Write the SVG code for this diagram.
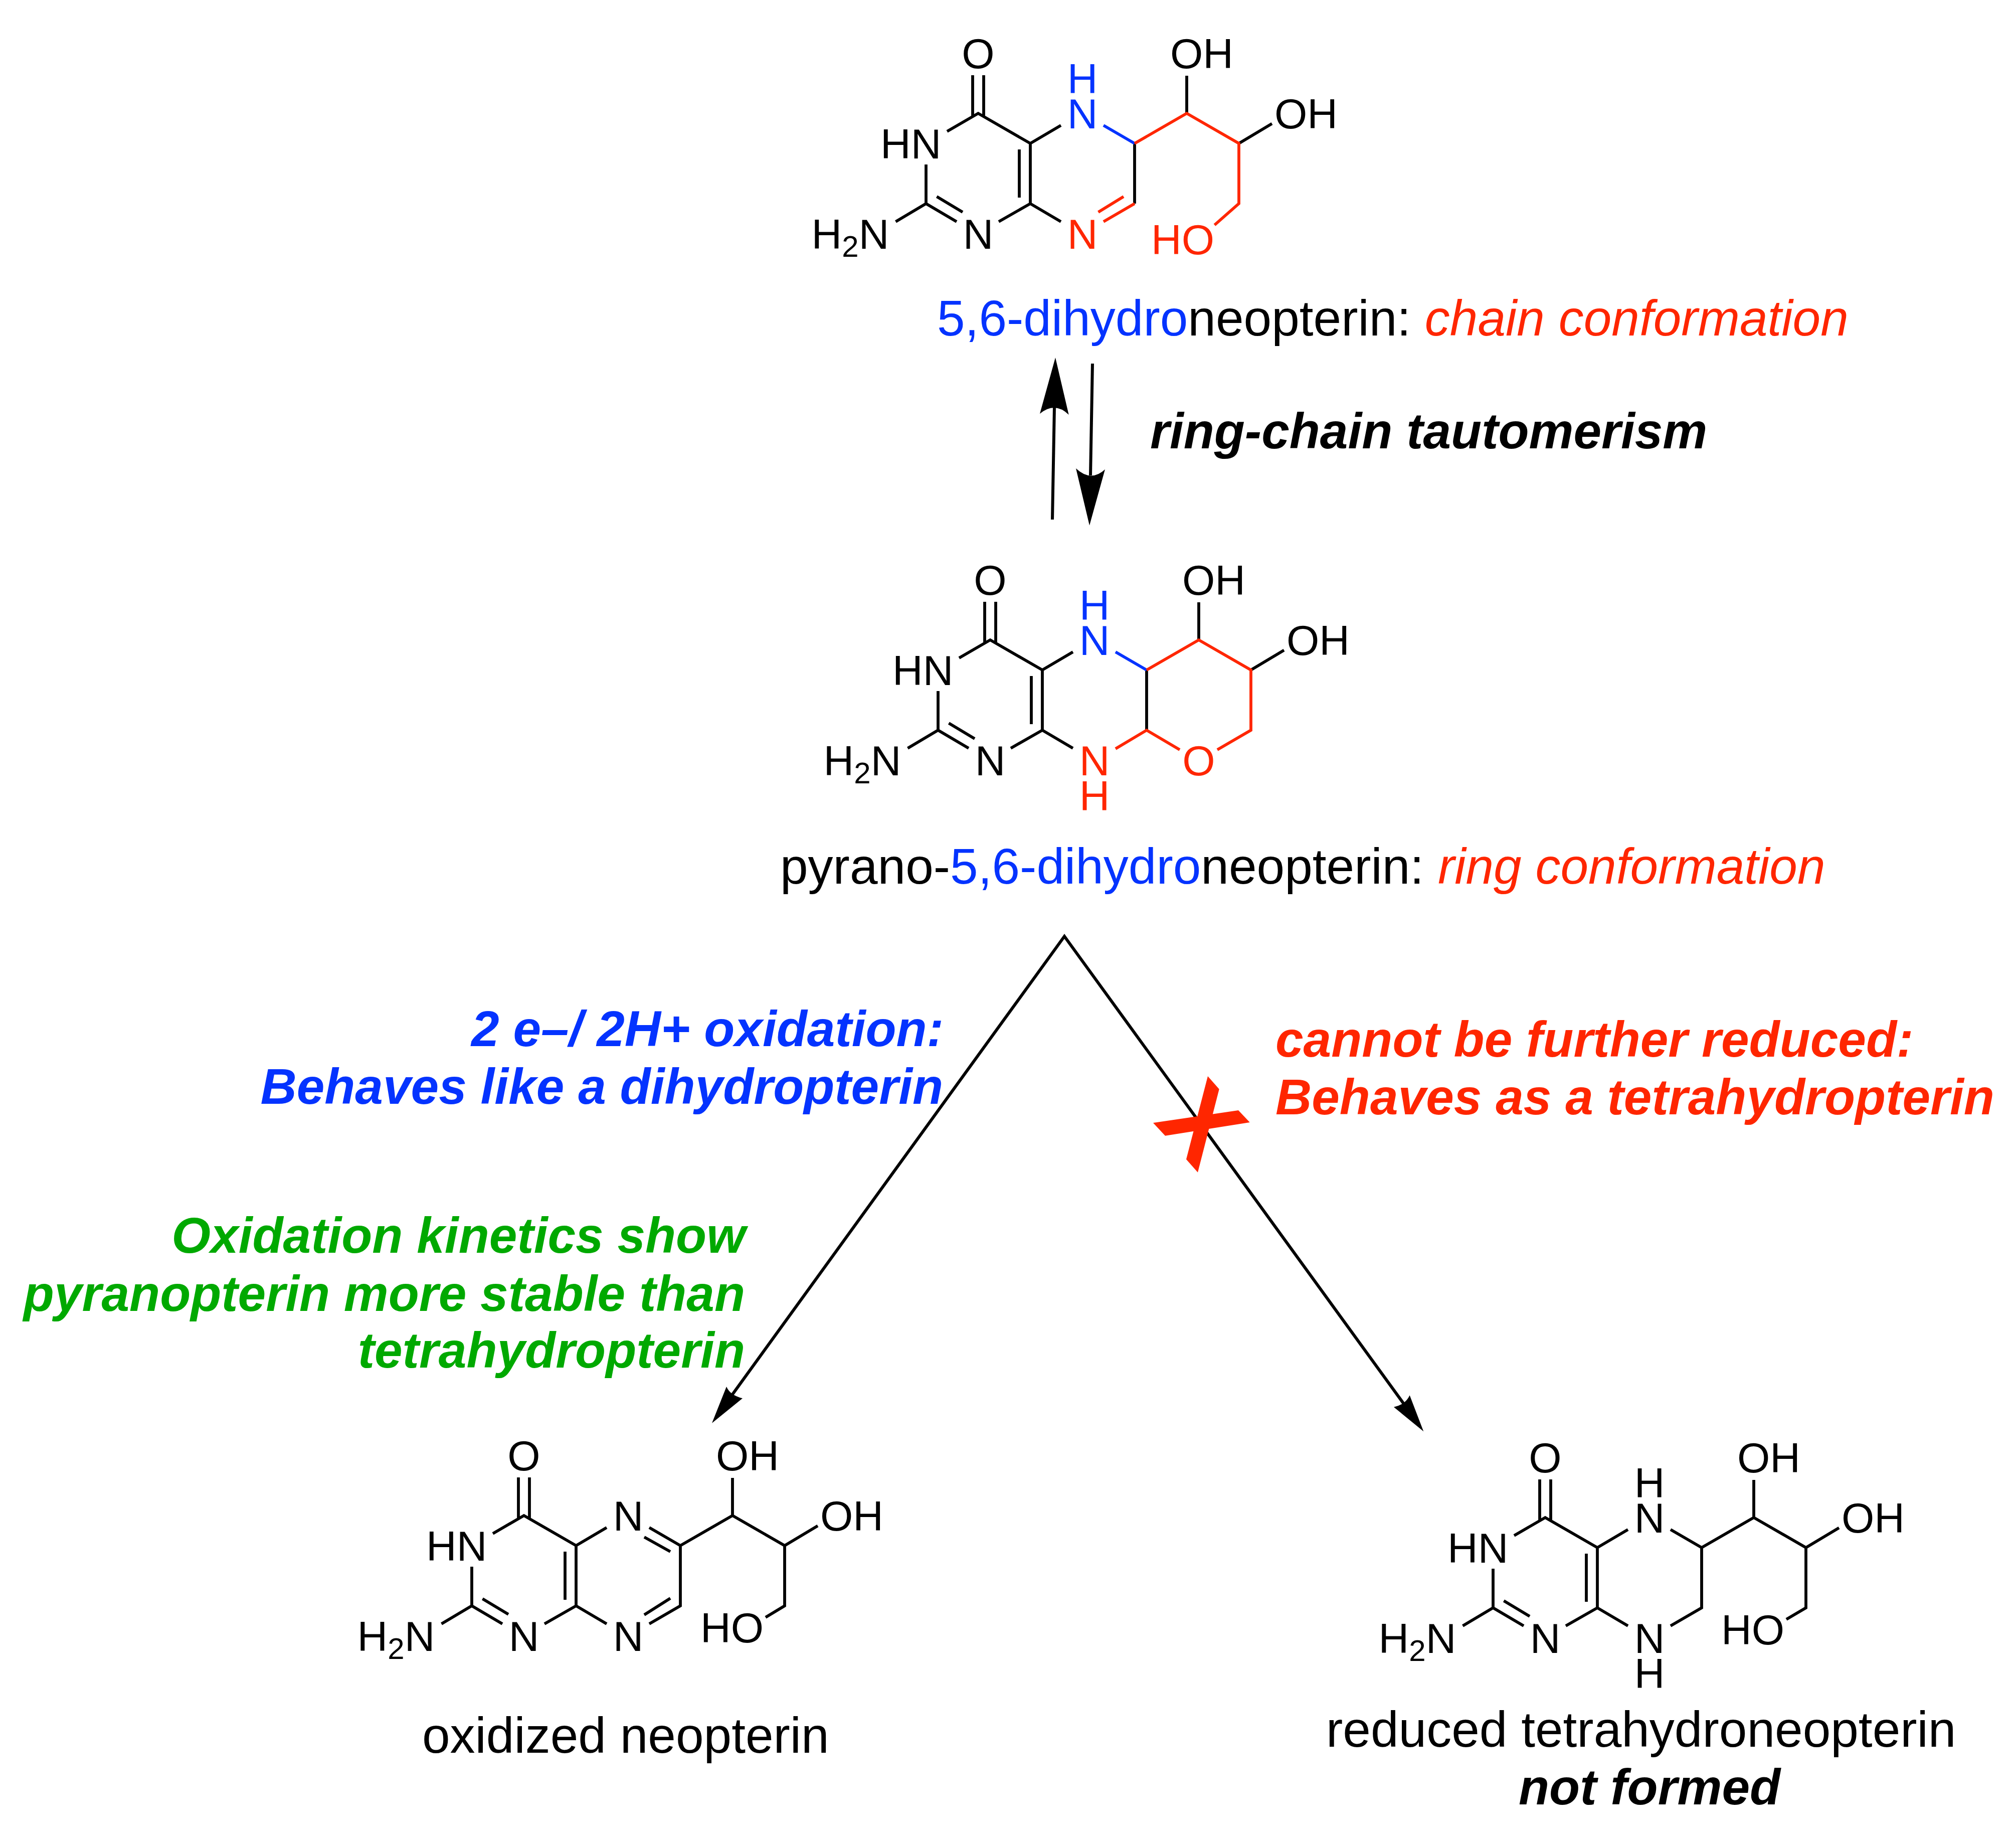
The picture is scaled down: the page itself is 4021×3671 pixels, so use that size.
<svg xmlns="http://www.w3.org/2000/svg" xmlns:xlink="http://www.w3.org/1999/xlink" width="4021" height="3671" viewBox="0 0 4021 3671">
<style>
text{font-family:"Liberation Sans",Arial,sans-serif}
.a{font-size:84px;text-anchor:middle}
.s{font-size:84px}
.e{font-size:84px;text-anchor:end}
.sub{font-size:60px}
.l{font-size:100px}
.bi{font-size:100px;font-weight:bold;font-style:italic;font-kerning:none}
.it{font-style:italic}
.end{text-anchor:end}
.k{fill:#000}.b{fill:#0433FF}.r{fill:#FF2600}.g{fill:#00A900}
.bond{fill:none;stroke-width:5.800;stroke-linecap:butt;stroke-linejoin:miter;stroke:#000}
.bb{stroke:#0433FF}.br{stroke:#FF2600}
.line{fill:none;stroke:#000;stroke-width:6}
</style>
<defs>
<path id="core" class="bond" d="M-166,-24L-104,-60L0,0L61,-36M0,0V120M-22,12V108M61,156L0,120L-63,156M-147,156L-208,120V42M-186.600,106L-135,137M-208,120L-268.500,156M-115,-136V-53M-93,-136V-53"/>
<g id="corelabels">
<text class="a" x="-104" y="-150">O</text>
<text class="e" x="-177.700" y="30">HN</text>
<text class="a" x="-104" y="210">N</text>
<text class="e" x="-281.700" y="210">H<tspan class="sub" dy="16">2</tspan><tspan dy="-16">N</tspan></text>
<text class="s" x="279" y="-150">OH</text>
<text class="s" x="487" y="-30">OH</text>
</g>
</defs>

<g id="mol-chain" transform="translate(2055,286)">
<use href="#core" xlink:href="#core"/>
<path class="bond" d="M208,0V120M312,-60V-135M416,0L482,-39.500"/>
<path class="bond bb" d="M146,-36L208,0"/>
<path class="bond br" d="M208,0L312,-60L416,0V120L367.500,162.600M208,120L146,156M186,106L135.600,137"/>
<use href="#corelabels" xlink:href="#corelabels"/>
<text class="a b" x="104" y="-30">N</text>
<text class="a b" x="104" y="-100">H</text>
<text class="a r" x="104" y="210">N</text>
<text class="e r" x="367" y="221">HO</text>
</g>

<g id="label-chain"><text class="l" x="1869" y="669"><tspan class="b">5,6-dihydro</tspan><tspan class="k">neopterin: </tspan><tspan class="r it">chain conformation</tspan></text></g>

<g id="mol-ring" transform="translate(2079,1336)">
<use href="#core" xlink:href="#core"/>
<path class="bond" d="M208,0V120M312,-60V-135M416,0L482,-39.500"/>
<path class="bond bb" d="M146,-36L208,0"/>
<path class="bond br" d="M208,0L312,-60L416,0V120L349,159M146,157L208,120L274,159"/>
<use href="#corelabels" xlink:href="#corelabels"/>
<text class="a b" x="104" y="-30">N</text>
<text class="a b" x="104" y="-100">H</text>
<text class="a r" x="104" y="210">N</text>
<text class="a r" x="104" y="280">H</text>
<text class="a r" x="312" y="210">O</text>
</g>

<g id="label-ring"><text class="l" x="1556" y="1762"><tspan class="k">pyrano-</tspan><tspan class="b">5,6-dihydro</tspan><tspan class="k">neopterin: </tspan><tspan class="r it">ring conformation</tspan></text></g>

<g id="mol-oxidized" transform="translate(1149,3082)">
<use href="#core" xlink:href="#core"/>
<path class="bond" d="M146,-36L208,0L312,-60L416,0V120L378,143M312,-60V-135M416,0L482,-39.500M208,0V120L146,156M188,12L136,-17M188,105L136,138"/>
<use href="#corelabels" xlink:href="#corelabels"/>
<text class="a" x="104" y="-30">N</text>
<text class="a" x="104" y="210">N</text>
<text class="e" x="374" y="192.600">HO</text>
</g>
<g id="label-oxidized"><text class="l k" x="842" y="3495">oxidized neopterin</text></g>

<g id="mol-reduced" transform="translate(3186,3086)">
<use href="#core" xlink:href="#core"/>
<path class="bond" d="M146,-36L208,0L312,-60L416,0V120L377,143M312,-60V-135M416,0L482,-39.500M208,0V120L146,156"/>
<use href="#corelabels" xlink:href="#corelabels"/>
<text class="a" x="104" y="-30">N</text>
<text class="a" x="104" y="-100">H</text>
<text class="a" x="104" y="210">N</text>
<text class="a" x="104" y="280">H</text>
<text class="e" x="373" y="192.900">HO</text>
</g>
<g id="label-reduced">
<text class="l k" x="2645" y="3482.700">reduced tetrahydroneopterin</text>
<text class="bi k" x="3029" y="3597.700">not formed</text>
</g>

<g id="connectors">
<path class="line" d="M2099,1036L2103,812"/>
<path d="M2105,713L2131.700,827Q2104,800 2074,825Z"/>
<path class="line" d="M2179,725L2175,948"/>
<path d="M2173,1047.700L2204,936Q2176,962 2146,934Z"/>
<path class="line" d="M1460,2781.700L2123,1867L2801.700,2801.700"/>
<path d="M1420,2837.700L1449,2765Q1456,2782 1481,2788.300Z"/>
<path d="M2839.300,2854.300L2780,2805.700Q2803,2801 2811.700,2782.300Z"/>
</g>

<g id="label-tautomerism"><text class="bi k" x="2294" y="894">ring-chain tautomerism</text></g>
<g id="label-oxidation">
<text class="bi b end" x="1882" y="2086">2 e–/ 2H+ oxidation:</text>
<text class="bi b end" x="1881" y="2201">Behaves like a dihydropterin</text>
</g>
<g id="label-stability">
<text class="bi g end" x="1487" y="2498">Oxidation kinetics show</text>
<text class="bi g end" x="1486" y="2614">pyranopterin more stable than</text>
<text class="bi g end" x="1486" y="2727">tetrahydropterin</text>
</g>
<g id="label-noreduction">
<text class="bi r" x="2544" y="2106.700">cannot be further reduced:</text>
<text class="bi r" x="2544" y="2221.700">Behaves as a tetrahydropterin</text>
</g>
<g id="cross">
<path class="r" d="M2300,2239L2324,2264.700L2492.700,2238L2470,2214Z"/>
<path class="r" d="M2409,2146L2431.700,2171.700L2389,2337.700L2366,2311.700Z"/>
</g>
</svg>
